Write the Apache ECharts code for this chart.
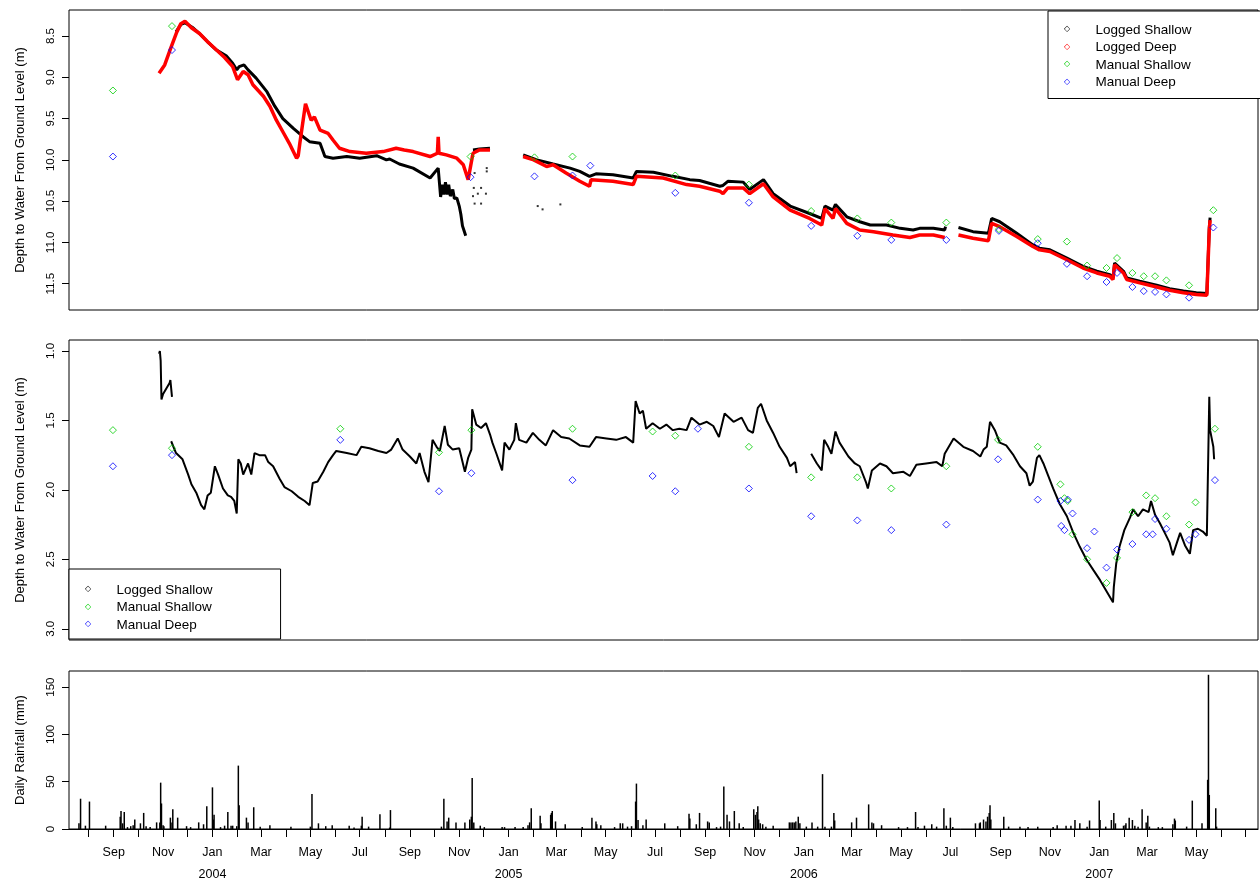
<!DOCTYPE html>
<html>
<head>
<meta charset="utf-8">
<script src="https://cdn.jsdelivr.net/npm/echarts@6.0.0/dist/echarts.min.js"></script>
<style>
html,body{margin:0;padding:0;background:#fff;}
#chart{width:1260px;height:882px;}
</style>
</head>
<body>
<div id="chart"></div>
<script>
// ---------------- DATA ----------------
const monthNames = ['Jan','Feb','Mar','Apr','May','Jun','Jul','Aug','Sep','Oct','Nov','Dec'];
const xLabelDates = ['2003-09-01','2003-11-01','2004-01-01','2004-03-01','2004-05-01','2004-07-01','2004-09-01','2004-11-01',
  '2005-01-01','2005-03-01','2005-05-01','2005-07-01','2005-09-01','2005-11-01','2006-01-01','2006-03-01','2006-05-01',
  '2006-07-01','2006-09-01','2006-11-01','2007-01-01','2007-03-01','2007-05-01'];
const xTickDates = ['2003-08-01','2003-09-01','2003-10-01','2003-11-01','2003-12-01','2004-01-01','2004-02-01','2004-03-01',
  '2004-04-01','2004-05-01','2004-06-01','2004-07-01','2004-08-01','2004-09-01','2004-10-01','2004-11-01','2004-12-01',
  '2005-01-01','2005-02-01','2005-03-01','2005-04-01','2005-05-01','2005-06-01','2005-07-01','2005-08-01','2005-09-01',
  '2005-10-01','2005-11-01','2005-12-01','2006-01-01','2006-02-01','2006-03-01','2006-04-01','2006-05-01','2006-06-01',
  '2006-07-01','2006-08-01','2006-09-01','2006-10-01','2006-11-01','2006-12-01','2007-01-01','2007-02-01','2007-03-01',
  '2007-04-01','2007-05-01','2007-06-01','2007-07-01'];
const topTicks = [8.5, 9.0, 9.5, 10.0, 10.5, 11.0, 11.5];
const midTicks = [1.0, 1.5, 2.0, 2.5, 3.0];
const rainTicks = [0, 50, 100, 150];

const topLoggedShallow = [
['2003-11-17',8.45],['2003-11-23',8.36],['2003-11-28',8.34],['2003-12-08',8.40],['2003-12-16',8.47],['2003-12-26',8.57],
['2004-01-06',8.67],['2004-01-18',8.74],['2004-01-26',8.83],['2004-01-31',8.91],['2004-02-03',8.87],['2004-02-09',8.85],
['2004-02-14',8.91],['2004-02-24',9.01],['2004-03-08',9.17],['2004-03-18',9.35],['2004-03-28',9.50],['2004-04-10',9.62],
['2004-04-22',9.72],['2004-04-30',9.78],['2004-05-13',9.80],['2004-05-19',9.96],['2004-05-29',9.98],['2004-06-15',9.96],
['2004-07-01',9.98],['2004-07-22',9.95],['2004-08-03',10.00],['2004-08-07',9.99],['2004-08-19',10.05],['2004-09-05',10.10],
['2004-09-26',10.22],['2004-10-06',10.10],['2004-10-08',10.12],['2004-10-09',10.45],['2004-10-11',10.30],['2004-10-13',10.42],
['2004-10-15',10.27],['2004-10-17',10.42],['2004-10-19',10.30],['2004-10-21',10.44],['2004-10-24',10.36],['2004-10-26',10.47],
['2004-10-29',10.46],['2004-11-01',10.56],['2004-11-03',10.66],['2004-11-05',10.80],['2004-11-07',10.86],['2004-11-09',10.92],
['2004-11-13',null],['2004-11-18',9.88],['2004-11-26',9.87],['2004-12-09',9.86],['2004-12-25',null],
['2005-01-19',9.94],['2005-02-05',10.00],['2005-02-25',10.05],['2005-03-18',10.10],['2005-03-30',10.14],['2005-04-11',10.20],
['2005-04-19',10.17],['2005-05-10',10.18],['2005-06-04',10.22],['2005-06-08',10.14],['2005-06-29',10.15],['2005-07-23',10.20],
['2005-08-13',10.24],['2005-08-25',10.25],['2005-09-19',10.32],['2005-09-23',10.31],['2005-09-29',10.26],['2005-10-18',10.27],
['2005-10-26',10.36],['2005-11-12',10.24],['2005-11-24',10.41],['2005-12-15',10.56],['2006-01-08',10.65],['2006-01-23',10.71],
['2006-01-27',10.56],['2006-02-06',10.61],['2006-02-09',10.54],['2006-02-23',10.69],['2006-03-11',10.75],['2006-03-24',10.79],
['2006-04-13',10.79],['2006-04-30',10.83],['2006-05-16',10.85],['2006-05-24',10.83],['2006-06-10',10.83],['2006-06-24',10.85],
['2006-06-25',10.81],['2006-07-03',null],['2006-07-11',10.82],['2006-07-29',10.87],['2006-08-17',10.89],['2006-08-21',10.71],
['2006-08-31',10.75],['2006-09-21',10.89],['2006-10-11',11.03],['2006-10-19',11.07],['2006-11-01',11.09],['2006-11-22',11.19],
['2006-12-12',11.29],['2006-12-29',11.35],['2007-01-14',11.39],['2007-01-18',11.43],['2007-01-20',11.25],['2007-01-31',11.35],
['2007-02-04',11.43],['2007-02-20',11.47],['2007-03-13',11.52],['2007-03-29',11.56],['2007-04-15',11.59],['2007-05-01',11.61],
['2007-05-14',11.62],['2007-05-16',11.62],['2007-05-17',10.82],['2007-05-18',10.70]
];
const topShallowStray = [
['2004-11-20',10.16],['2004-11-19',10.34],['2004-11-28',10.34],['2004-11-24',10.41],['2004-12-04',10.41],['2004-11-18',10.44],
['2004-11-20',10.53],['2004-11-28',10.53],['2004-12-05',10.10],['2004-12-05',10.14],['2005-02-06',10.56],['2005-02-12',10.60],
['2005-03-06',10.54]
];
const topLoggedDeep = [
['2003-10-27',8.95],['2003-11-03',8.85],['2003-11-10',8.66],['2003-11-18',8.45],['2003-11-23',8.35],['2003-11-28',8.32],
['2003-12-06',8.40],['2003-12-16',8.47],['2003-12-26',8.57],['2004-01-06',8.67],['2004-01-16',8.76],['2004-01-26',8.87],
['2004-02-01',9.03],['2004-02-08',8.93],['2004-02-14',8.97],['2004-02-20',9.09],['2004-03-04',9.23],['2004-03-12',9.35],
['2004-03-20',9.52],['2004-03-28',9.66],['2004-04-05',9.80],['2004-04-14',9.98],['2004-04-16',9.95],['2004-04-18',9.80],
['2004-04-25',9.32],['2004-05-02',9.52],['2004-05-06',9.48],['2004-05-13',9.64],['2004-05-23',9.68],['2004-05-29',9.76],
['2004-06-06',9.86],['2004-06-19',9.90],['2004-07-09',9.92],['2004-07-30',9.90],['2004-08-15',9.86],['2004-08-25',9.88],
['2004-09-05',9.90],['2004-09-26',9.96],['2004-10-05',9.92],['2004-10-06',9.72],['2004-10-07',9.92],['2004-10-16',9.94],
['2004-10-29',9.98],['2004-11-06',10.06],['2004-11-12',10.24],['2004-11-18',9.92],['2004-11-26',9.88],['2004-12-09',9.88],
['2004-12-25',null],['2005-01-19',9.96],['2005-02-01',10.00],['2005-02-17',10.08],['2005-02-25',10.06],['2005-03-13',10.16],
['2005-03-30',10.26],['2005-04-11',10.32],['2005-04-13',10.24],['2005-05-10',10.26],['2005-06-04',10.30],['2005-06-08',10.20],
['2005-07-11',10.22],['2005-08-09',10.30],['2005-08-25',10.32],['2005-09-19',10.38],['2005-09-23',10.41],['2005-09-29',10.34],
['2005-10-18',10.34],['2005-10-26',10.41],['2005-11-12',10.29],['2005-11-24',10.45],['2005-12-15',10.61],['2006-01-08',10.71],
['2006-01-23',10.79],['2006-01-27',10.59],['2006-02-06',10.71],['2006-02-09',10.59],['2006-02-23',10.77],['2006-03-11',10.85],
['2006-03-28',10.87],['2006-04-21',10.91],['2006-05-12',10.94],['2006-05-24',10.91],['2006-06-10',10.91],['2006-06-24',10.94],
['2006-07-03',null],['2006-07-11',10.91],['2006-07-29',10.95],['2006-08-17',10.98],['2006-08-21',10.77],['2006-08-31',10.81],
['2006-09-21',10.93],['2006-10-11',11.05],['2006-10-19',11.09],['2006-11-01',11.11],['2006-11-22',11.21],['2006-12-12',11.31],
['2006-12-29',11.37],['2007-01-14',11.41],['2007-01-18',11.45],['2007-01-20',11.27],['2007-01-31',11.37],['2007-02-04',11.45],
['2007-02-20',11.49],['2007-03-13',11.54],['2007-03-29',11.58],['2007-04-15',11.61],['2007-05-01',11.63],['2007-05-14',11.64],
['2007-05-16',11.64],['2007-05-17',10.85],['2007-05-18',10.73]
];
const topManualShallow = [
['2003-08-31',9.16],['2003-11-12',8.38],['2004-11-15',9.96],['2005-02-02',9.97],['2005-03-21',9.96],['2005-07-26',10.19],
['2005-10-25',10.30],['2006-01-10',10.62],['2006-03-08',10.71],['2006-04-19',10.76],['2006-06-26',10.76],['2006-08-30',10.84],
['2006-10-17',10.96],['2006-11-22',10.99],['2006-12-17',11.28],['2007-01-10',11.31],['2007-01-23',11.19],['2007-02-11',11.37],
['2007-02-25',11.41],['2007-03-11',11.41],['2007-03-25',11.46],['2007-04-22',11.52],['2007-05-22',10.61]
];
const topManualDeep = [
['2003-08-31',9.96],['2003-11-12',8.67],['2004-11-15',10.21],['2005-02-02',10.20],['2005-03-21',10.19],['2005-04-12',10.07],
['2005-07-26',10.40],['2005-10-25',10.52],['2006-01-10',10.80],['2006-03-08',10.92],['2006-04-19',10.97],['2006-06-26',10.97],
['2006-08-30',10.86],['2006-10-17',11.01],['2006-11-22',11.26],['2006-12-17',11.41],['2007-01-10',11.48],['2007-01-23',11.37],
['2007-02-11',11.54],['2007-02-25',11.59],['2007-03-11',11.60],['2007-03-25',11.63],['2007-04-22',11.67],['2007-05-22',10.82]
];

const midLoggedShallowEarly = [
['2003-10-27',1.02],['2003-10-28',1.00],['2003-10-29',1.07],['2003-10-30',1.35],['2003-11-01',1.31],['2003-11-05',1.27],
['2003-11-09',1.23],['2003-11-10',1.21],['2003-11-11',1.22],['2003-11-12',1.33]
];
const midLoggedShallow = [
['2003-11-11',1.65],['2003-11-17',1.735],['2003-11-25',1.78],['2003-12-02',1.89],['2003-12-06',1.96],['2003-12-12',2.02],
['2003-12-18',2.11],['2003-12-22',2.14],['2003-12-26',2.04],['2003-12-30',2.02],['2004-01-04',1.83],['2004-01-08',1.89],
['2004-01-14',1.99],['2004-01-20',2.04],['2004-01-24',2.05],['2004-01-28',2.08],['2004-01-31',2.17],['2004-02-02',1.78],
['2004-02-05',1.81],['2004-02-08',1.89],['2004-02-14',1.81],['2004-02-18',1.89],['2004-02-22',1.735],['2004-02-28',1.75],
['2004-03-06',1.75],['2004-03-10',1.80],['2004-03-16',1.83],['2004-03-24',1.92],['2004-03-30',1.98],['2004-04-08',2.01],
['2004-04-16',2.05],['2004-04-24',2.08],['2004-04-30',2.11],['2004-05-04',1.95],['2004-05-10',1.94],['2004-05-17',1.87],
['2004-05-23',1.80],['2004-05-29',1.75],['2004-06-02',1.72],['2004-06-15',1.735],['2004-06-27',1.75],['2004-07-03',1.69],
['2004-07-13',1.70],['2004-07-24',1.72],['2004-08-03',1.735],['2004-08-09',1.71],['2004-08-17',1.63],['2004-08-23',1.71],
['2004-09-01',1.76],['2004-09-09',1.81],['2004-09-13',1.735],['2004-09-19',1.87],['2004-09-24',1.945],['2004-09-29',1.64],
['2004-10-04',1.69],['2004-10-08',1.72],['2004-10-14',1.54],['2004-10-18',1.675],['2004-10-24',1.71],['2004-11-01',1.70],
['2004-11-08',1.87],['2004-11-12',1.77],['2004-11-16',1.71],['2004-11-17',1.42],['2004-11-22',1.53],['2004-11-28',1.555],
['2004-12-04',1.52],['2004-12-09',1.60],['2004-12-12',1.66],['2004-12-17',1.74],['2004-12-24',1.86],
['2004-12-27',1.66],['2005-01-02',1.71],['2005-01-08',1.64],['2005-01-10',1.52],['2005-01-14',1.64],['2005-01-23',1.66],
['2005-01-31',1.59],['2005-02-08',1.64],['2005-02-16',1.68],['2005-02-25',1.57],['2005-03-07',1.62],['2005-03-17',1.63],
['2005-03-30',1.68],['2005-04-11',1.69],['2005-04-19',1.62],['2005-05-02',1.63],['2005-05-14',1.64],['2005-05-26',1.62],
['2005-06-04',1.66],['2005-06-07',1.36],['2005-06-12',1.45],['2005-06-16',1.43],['2005-06-20',1.56],['2005-06-28',1.52],
['2005-07-07',1.56],['2005-07-15',1.53],['2005-07-23',1.57],['2005-07-31',1.56],['2005-08-09',1.57],['2005-08-15',1.48],
['2005-08-25',1.53],['2005-09-03',1.51],['2005-09-11',1.54],['2005-09-18',1.62],['2005-09-25',1.45],['2005-10-06',1.51],
['2005-10-16',1.48],['2005-10-24',1.57],['2005-10-30',1.59],['2005-11-05',1.41],['2005-11-09',1.38],['2005-11-16',1.50],
['2005-11-24',1.59],['2005-12-02',1.69],['2005-12-11',1.77],['2005-12-15',1.83],['2005-12-21',1.80],['2005-12-23',1.88],
['2005-12-30',null],['2006-01-10',1.74],['2006-01-17',1.81],['2006-01-23',1.86],['2006-01-26',1.64],['2006-01-31',1.69],
['2006-02-04',1.74],['2006-02-09',1.58],['2006-02-14',1.66],['2006-02-25',1.76],['2006-03-05',1.81],['2006-03-11',1.83],
['2006-03-19',1.95],['2006-03-21',1.99],['2006-03-26',1.86],['2006-04-05',1.81],['2006-04-13',1.83],['2006-04-21',1.88],
['2006-05-04',1.87],['2006-05-12',1.90],['2006-05-20',1.82],['2006-06-01',1.81],['2006-06-14',1.80],['2006-06-21',1.83],
['2006-06-24',1.74],['2006-07-05',1.63],['2006-07-17',1.69],['2006-07-29',1.72],['2006-08-07',1.76],['2006-08-11',1.71],
['2006-08-15',1.69],['2006-08-19',1.51],['2006-08-25',1.57],['2006-08-31',1.66],['2006-09-08',1.68],['2006-09-17',1.75],
['2006-09-25',1.83],['2006-10-03',1.88],['2006-10-07',1.97],['2006-10-11',1.94],['2006-10-16',1.77],['2006-10-19',1.75],
['2006-10-24',1.81],['2006-10-30',1.90],['2006-11-05',1.99],['2006-11-13',2.10],['2006-11-22',2.19],['2006-11-30',2.31],
['2006-12-08',2.41],['2006-12-16',2.50],['2006-12-25',2.58],['2007-01-02',2.65],['2007-01-10',2.73],['2007-01-18',2.81],
['2007-01-19',2.70],['2007-01-22',2.53],['2007-01-26',2.41],['2007-02-01',2.29],['2007-02-08',2.20],['2007-02-12',2.14],
['2007-02-18',2.19],['2007-02-24',2.14],['2007-03-03',2.16],['2007-03-06',2.08],['2007-03-11',2.18],['2007-03-17',2.24],
['2007-03-23',2.31],['2007-03-29',2.38],['2007-04-02',2.47],['2007-04-07',2.38],['2007-04-11',2.31],['2007-04-17',2.40],
['2007-04-23',2.46],['2007-04-27',2.29],['2007-05-03',2.28],['2007-05-09',2.30],['2007-05-14',2.33],['2007-05-15',2.32],
['2007-05-17',1.33],['2007-05-18',1.57],['2007-05-22',1.69],['2007-05-23',1.78]
];
const midManualShallow = [
['2003-08-31',1.57],['2003-11-12',1.70],['2004-06-07',1.56],['2004-10-07',1.73],['2004-11-16',1.57],['2005-03-21',1.56],
['2005-06-28',1.58],['2005-07-26',1.61],['2005-10-25',1.69],['2006-01-10',1.91],['2006-03-08',1.91],['2006-04-19',1.99],
['2006-06-26',1.83],['2006-08-29',1.64],['2006-10-17',1.69],['2006-11-14',1.96],['2006-11-19',2.06],['2006-11-23',2.08],
['2006-11-29',2.32],['2006-12-17',2.50],['2007-01-10',2.67],['2007-01-23',2.49],['2007-02-11',2.16],['2007-02-28',2.04],
['2007-03-11',2.06],['2007-03-25',2.19],['2007-04-22',2.25],['2007-04-30',2.09],['2007-05-24',1.56]
];
const midManualDeep = [
['2003-08-31',1.83],['2003-11-12',1.75],['2004-06-07',1.64],['2004-10-07',2.01],['2004-11-16',1.88],['2005-03-21',1.93],
['2005-06-28',1.90],['2005-07-26',2.01],['2005-08-23',1.56],['2005-10-25',1.99],['2006-01-10',2.19],['2006-03-08',2.22],
['2006-04-19',2.29],['2006-06-26',2.25],['2006-08-29',1.78],['2006-10-17',2.07],['2006-11-14',2.08],['2006-11-15',2.26],
['2006-11-19',2.29],['2006-11-23',2.07],['2006-11-29',2.17],['2006-12-17',2.42],['2006-12-26',2.30],['2007-01-10',2.56],
['2007-01-23',2.43],['2007-02-11',2.39],['2007-02-28',2.32],['2007-03-08',2.32],['2007-03-11',2.21],['2007-03-25',2.28],
['2007-04-22',2.36],['2007-04-30',2.32],['2007-05-24',1.93]
];

const dailyRainfall = [
['2003-07-20',6],['2003-07-22',32],['2003-07-28',3.5],['2003-08-02',29],['2003-08-22',3.5],['2003-09-09',13],['2003-09-10',19],
['2003-09-12',6],['2003-09-14',18],['2003-09-18',2],['2003-09-22',3],['2003-09-25',4],['2003-09-27',10],['2003-10-04',6],
['2003-10-08',17],['2003-10-11',3],['2003-10-16',2],['2003-10-24',7],['2003-10-28',7],['2003-10-29',49],['2003-10-30',27],
['2003-11-01',4],['2003-11-02',3],['2003-11-10',12],['2003-11-12',7],['2003-11-13',21],['2003-11-19',12],['2003-11-30',3],
['2003-12-05',2],['2003-12-15',7],['2003-12-21',5],['2003-12-25',24],['2004-01-01',44],['2004-01-02',10],['2004-01-03',15],
['2004-01-11',2],['2004-01-16',3.5],['2004-01-20',18],['2004-01-24',3.5],['2004-01-26',3.5],['2004-01-31',3],['2004-02-02',67],
['2004-02-03',25],['2004-02-12',12],['2004-02-14',7],['2004-02-21',23],['2004-02-29',2.5],['2004-03-12',4],['2004-04-07',2.5],
['2004-05-01',2.5],['2004-05-03',37],['2004-05-11',6],['2004-05-20',3],['2004-05-28',4],['2004-06-18',3.5],['2004-06-24',1.5],
['2004-07-03',3.5],['2004-07-04',13],['2004-07-12',2.5],['2004-07-26',15.5],['2004-08-07',1.5],['2004-08-08',20],
['2004-10-10',2.5],['2004-10-13',32],['2004-10-17',8],['2004-10-19',12],['2004-10-28',7],['2004-11-08',7],['2004-11-14',10],
['2004-11-16',13],['2004-11-17',54],['2004-11-19',7],['2004-11-27',3.5],['2004-12-02',2],['2004-12-24',2],['2004-12-27',2],
['2005-01-09',2],['2005-01-19',2],['2005-01-25',4],['2005-01-27',7],['2005-01-29',22],['2005-02-09',14],['2005-02-10',6],
['2005-02-22',15],['2005-02-23',17],['2005-02-24',19],['2005-02-28',8],['2005-03-12',5],['2005-04-02',2],['2005-04-14',12],
['2005-04-19',8],['2005-04-20',5],['2005-04-25',4],['2005-05-12',2],['2005-05-19',6],['2005-05-22',6],['2005-05-28',2.5],
['2005-06-02',3],['2005-06-07',29],['2005-06-08',48],['2005-06-10',9.5],['2005-06-16',4],['2005-06-20',10],['2005-07-13',6],
['2005-07-29',3],['2005-08-12',16],['2005-08-13',11],['2005-08-21',5],['2005-08-25',17],['2005-09-04',8],['2005-09-06',7],
['2005-09-15',2],['2005-09-20',2.5],['2005-09-24',45],['2005-09-28',15],['2005-10-01',8],['2005-10-07',19],['2005-10-13',6],
['2005-10-18',2],['2005-10-31',21],['2005-11-02',15],['2005-11-04',18],['2005-11-05',24],['2005-11-06',10],['2005-11-08',6],
['2005-11-11',5],['2005-11-15',2.5],['2005-11-24',3.5],['2005-12-14',7],['2005-12-16',7],['2005-12-18',7],['2005-12-20',7],
['2005-12-22',8],['2005-12-25',13],['2005-12-27',6],['2006-01-04',2.5],['2006-01-11',7],['2006-01-18',2.5],['2006-01-24',58],
['2006-01-27',2.5],['2006-02-04',2.5],['2006-02-07',17],['2006-02-08',9],['2006-03-01',7],['2006-03-07',12],['2006-03-22',26],
['2006-03-26',7],['2006-03-28',6],['2006-04-07',4],['2006-04-28',2],['2006-05-09',2],['2006-05-19',18],['2006-05-22',2],
['2006-05-30',3.5],['2006-06-08',5],['2006-06-14',2.5],['2006-06-23',22],['2006-06-26',3.5],['2006-07-01',12],['2006-07-04',2],
['2006-08-01',6],['2006-08-06',6],['2006-08-07',7],['2006-08-11',10],['2006-08-14',8],['2006-08-16',13],['2006-08-18',17],
['2006-08-19',25],['2006-08-20',10],['2006-09-05',13],['2006-09-11',2.5],['2006-09-25',2.5],['2006-10-05',2],['2006-10-17',2.5],
['2006-11-05',2],['2006-11-10',4],['2006-11-21',3.5],['2006-11-27',3.5],['2006-12-02',9.5],['2006-12-08',6],['2006-12-17',2.5],
['2006-12-20',9],['2007-01-01',30],['2007-01-02',9.5],['2007-01-09',2.5],['2007-01-16',9.5],['2007-01-19',17],['2007-01-21',6],
['2007-01-31',3.5],['2007-02-02',4],['2007-02-03',6],['2007-02-07',12],['2007-02-11',9.5],['2007-02-14',3.5],['2007-02-18',2.5],
['2007-02-23',21],['2007-02-28',7],['2007-03-02',14],['2007-03-04',2.5],['2007-03-15',2],['2007-03-20',2],['2007-04-02',5],
['2007-04-04',11],['2007-04-05',9],['2007-04-19',2.5],['2007-04-26',30],['2007-05-08',6],['2007-05-15',52],['2007-05-16',163],
['2007-05-17',36],['2007-05-25',22],['2007-05-26',2.5]
];

// legend keys -> label text
const topLegendLabels = {tl1: 'Logged Shallow', tl2: 'Logged Deep', tl3: 'Manual Shallow', tl4: 'Manual Deep'};
const midLegendLabels = {ml1: 'Logged Shallow', ml2: 'Manual Shallow', ml3: 'Manual Deep'};

// ---------------- CHART ----------------
const FONT = '"Liberation Sans", Arial, sans-serif';
const BLACK = '#000000', RED = '#ff0000', GREEN = '#00cd00', BLUE = '#0000ff';
const legendStyleKey = {tl1: 'k', tl2: 'r', tl3: 'g', tl4: 'b', ml1: 'k', ml2: 'g', ml3: 'b'};
const toT = s => new Date(s + 'T00:00:00').getTime();
const xMin = new Date('2003-07-07T17:00:00').getTime();
const xMax = new Date('2007-07-16T05:00:00').getTime();
const conv = arr => arr.map(d => [toT(d[0]), d[1] === null ? '-' : d[1]]);

const hiddenX = i => ({
  type: 'value', gridIndex: i, min: xMin, max: xMax, show: false, splitLine: {show: false}
});
const yAx = (i, min, max, ticks, name, inverse, fmt) => ({
  type: 'value', gridIndex: i, min: min, max: max, inverse: inverse,
  name: name, nameLocation: 'middle', nameGap: 42, nameRotate: 90,
  nameTextStyle: {fontFamily: FONT, fontSize: 13, color: BLACK},
  axisLine: {show: false},
  axisTick: {show: true, inside: false, length: 7, customValues: ticks, lineStyle: {color: BLACK, width: 1}},
  axisLabel: {show: true, rotate: 90, margin: 12, customValues: ticks, formatter: fmt,
    fontFamily: FONT, fontSize: 11.5, color: BLACK},
  splitLine: {show: false}
});
const hollow = color => ({color: 'rgba(255,255,255,0)', borderColor: color, borderWidth: 1});
const diamondScatter = (name, data, color, xi, yi) => ({
  name: name, type: 'scatter', xAxisIndex: xi, yAxisIndex: yi, data: conv(data),
  symbol: 'diamond', symbolSize: 7, z: 5, itemStyle: hollow(color)
});
const loggedLine = (name, data, color, width, xi, yi, z) => ({
  name: name, type: 'line', xAxisIndex: xi, yAxisIndex: yi, data: conv(data),
  showSymbol: false, connectNulls: false, z: z,
  lineStyle: {color: color, width: width},
  itemStyle: {color: color, borderColor: color}
});
// empty series that only carry the legend entries
const legendSwatch = (key, xi, yi) => ({
  name: key, type: 'scatter', xAxisIndex: xi, yAxisIndex: yi, data: []
});
const symStyle = c => ({color: c, fontFamily: '"DejaVu Sans", sans-serif', fontSize: 8, width: 7, align: 'center', lineHeight: 14, padding: [0, 0, 2, 0]});
const legendRich = {
  k: symStyle(BLACK), r: symStyle(RED), g: symStyle(GREEN), b: symStyle(BLUE),
  t: {color: BLACK, fontFamily: FONT, fontSize: 13.5, lineHeight: 14, padding: [0, 0, 0, 25]}
};
const legendCommon = {
  orient: 'vertical', selectedMode: false, icon: 'none', itemWidth: 1, itemHeight: 6, itemGap: 3.5,
  backgroundColor: '#ffffff', borderColor: BLACK, borderWidth: 1, borderRadius: 0,
  textStyle: {fontFamily: FONT, fontSize: 13.5, color: BLACK, lineHeight: 14, rich: legendRich},
  z: 10
};
const legendText = labels => k => '{' + legendStyleKey[k] + '|\u25C7}{t|' + labels[k] + '}';

const option = {
  animation: false,
  backgroundColor: '#ffffff',
  grid: [
    {left: 69, right: 2, top: 10, height: 300, show: true, borderColor: BLACK, borderWidth: 1, backgroundColor: 'transparent', outerBoundsMode: 'none', containLabel: false},
    {left: 69, right: 2, top: 340, height: 300, show: true, borderColor: BLACK, borderWidth: 1, backgroundColor: 'transparent', outerBoundsMode: 'none', containLabel: false},
    {left: 69, right: 2, top: 671, height: 158, show: true, borderColor: BLACK, borderWidth: 1, backgroundColor: 'transparent', outerBoundsMode: 'none', containLabel: false}
  ],
  xAxis: [
    hiddenX(0), hiddenX(1),
    {
      type: 'value', gridIndex: 2, min: xMin, max: xMax,
      axisLine: {show: true, onZero: false, lineStyle: {color: BLACK, width: 1}},
      axisTick: {show: true, inside: false, length: 8, customValues: xTickDates.map(toT), lineStyle: {color: BLACK, width: 1}},
      axisLabel: {
        show: true, margin: 13, customValues: xLabelDates.map(toT),
        fontFamily: FONT, fontSize: 12.5, color: BLACK, lineHeight: 22,
        formatter: v => { const d = new Date(v); const m = monthNames[d.getMonth()];
          return d.getMonth() === 0 ? m + '\n' + d.getFullYear() : m; }
      },
      splitLine: {show: false}
    }
  ],
  yAxis: [
    yAx(0, 8.185, 11.819, topTicks, 'Depth to Water From Ground Level (m)', true, v => v.toFixed(1)),
    yAx(1, 0.921, 3.081, midTicks, 'Depth to Water From Ground Level (m)', true, v => v.toFixed(1)),
    yAx(2, 0, 167, rainTicks, 'Daily Rainfall (mm)', false, v => String(v))
  ],
  legend: [
    Object.assign({}, legendCommon, {
      left: 1048, top: 11, padding: [12, 69, 9, 9.5],
      data: ['tl1', 'tl2', 'tl3', 'tl4'],
      formatter: legendText(topLegendLabels)
    }),
    Object.assign({}, legendCommon, {
      left: 69, top: 569, padding: [14, 68, 7, 9.5],
      data: ['ml1', 'ml2', 'ml3'],
      formatter: legendText(midLegendLabels)
    })
  ],
  series: [
    loggedLine('Logged Shallow', topLoggedShallow, BLACK, 3, 0, 0, 2),
    {name: 'Logged Shallow', type: 'scatter', xAxisIndex: 0, yAxisIndex: 0, data: conv(topShallowStray),
     symbol: 'rect', symbolSize: 2, itemStyle: {color: BLACK}, z: 2},
    loggedLine('Logged Deep', topLoggedDeep, RED, 3.5, 0, 0, 3),
    diamondScatter('Manual Shallow', topManualShallow, GREEN, 0, 0),
    diamondScatter('Manual Deep', topManualDeep, BLUE, 0, 0),
    loggedLine('Logged Shallow', midLoggedShallowEarly, BLACK, 2, 1, 1, 2),
    loggedLine('Logged Shallow', midLoggedShallow, BLACK, 2, 1, 1, 2),
    diamondScatter('Manual Shallow', midManualShallow, GREEN, 1, 1),
    diamondScatter('Manual Deep', midManualDeep, BLUE, 1, 1),
    {name: 'Daily Rainfall', type: 'bar', xAxisIndex: 2, yAxisIndex: 2, data: conv(dailyRainfall),
     barWidth: 1.5, barGap: '-100%', itemStyle: {color: BLACK}},
    legendSwatch('tl1', 0, 0), legendSwatch('tl2', 0, 0), legendSwatch('tl3', 0, 0), legendSwatch('tl4', 0, 0),
    legendSwatch('ml1', 1, 1), legendSwatch('ml2', 1, 1), legendSwatch('ml3', 1, 1)
  ]
};

const chart = echarts.init(document.getElementById('chart'), null, {renderer: 'canvas'});
chart.setOption(option);
</script>
</body>
</html>
